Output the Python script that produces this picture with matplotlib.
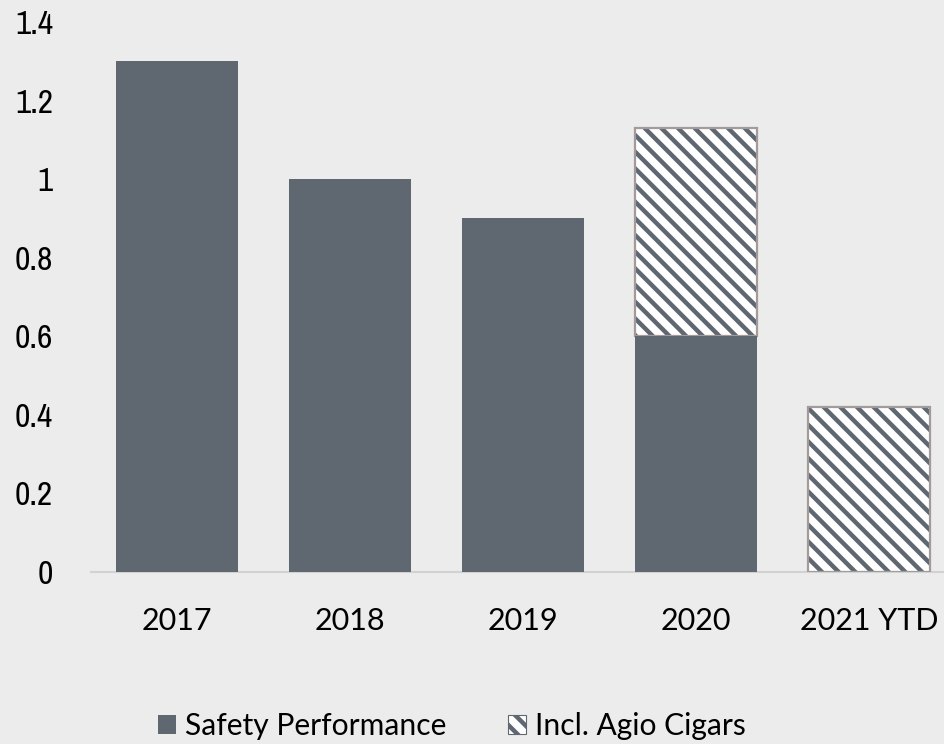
"""Safety performance bar chart, 2017 - 2021 YTD."""

import matplotlib

matplotlib.use("Agg")

import matplotlib.pyplot as plt
from matplotlib import font_manager
from matplotlib.patches import Patch

CATEGORIES = ["2017", "2018", "2019", "2020", "2021 YTD"]
SAFETY = [1.30, 1.00, 0.90, 0.60, 0.0]
INCL_AGIO = [None, None, None, 1.13, 0.42]
Y_TICKS = [0, 0.2, 0.4, 0.6, 0.8, 1.0, 1.2, 1.4]
Y_TICK_LABELS = ["0", "0.2", "0.4", "0.6", "0.8", "1", "1.2", "1.4"]

BG_COLOR = "#ececec"
BAR_COLOR = "#5f6771"
HATCH_EDGE = "#a39a9a"
AXIS_LINE = "#d2d2d2"
TEXT_FONT = ["Lato", "DejaVu Sans"]


def narrow_font():
    names = sorted({f.name for f in font_manager.fontManager.ttflist})
    for name in names:
        if "Narrow" in name or "Condensed" in name:
            return name
    return None


def main():
    plt.rcParams["hatch.linewidth"] = 3.2

    narrow = narrow_font()
    if narrow:
        ytick_font = {"family": [narrow, "DejaVu Sans"]}
    else:
        ytick_font = {"family": ["DejaVu Sans"], "stretch": "condensed"}

    fig = plt.figure(figsize=(9.44, 7.44), dpi=100)
    fig.patch.set_facecolor(BG_COLOR)
    ax = fig.add_axes([90.5 / 944, 1 - 572 / 744, (956 - 90.5) / 944, 550 / 744])
    ax.set_facecolor("none")

    x = list(range(len(CATEGORIES)))
    width = 0.705

    # hatched totals stacked above the solid bars
    for xi, total, base in zip(x, INCL_AGIO, SAFETY):
        if total is None:
            continue
        ax.bar(xi, total - base, bottom=base, width=width, color="white",
               edgecolor=BAR_COLOR, hatch="\\\\", linewidth=0, zorder=2)
        ax.bar(xi, total - base, bottom=base, width=width, fill=False,
               edgecolor=HATCH_EDGE, linewidth=1.6, zorder=3)

    ax.bar(x, SAFETY, width=width, color=BAR_COLOR, linewidth=0, zorder=4)

    ax.set_xlim(-0.5, len(CATEGORIES) - 0.5)
    ax.set_ylim(0, 1.4)
    ax.set_yticks(Y_TICKS)
    ax.set_yticklabels(Y_TICK_LABELS, fontsize=24, **ytick_font)
    ax.set_xticks(x)
    ax.set_xticklabels(CATEGORIES, fontsize=22, family=TEXT_FONT)
    ax.tick_params(axis="y", length=0, pad=27)
    ax.tick_params(axis="x", length=0, pad=25.5)

    for side in ("top", "right", "left"):
        ax.spines[side].set_visible(False)
    ax.spines["bottom"].set_color(AXIS_LINE)
    ax.spines["bottom"].set_linewidth(1.5)

    handles = [
        Patch(facecolor=BAR_COLOR, edgecolor="none", label="Safety Performance"),
        Patch(facecolor="white", edgecolor=BAR_COLOR, hatch="\\\\",
              linewidth=0.8, label="Incl. Agio Cigars"),
    ]
    fig.legend(
        handles=handles,
        loc="center",
        bbox_to_anchor=(451.5 / 944, 1 - 726.5 / 744),
        ncol=2,
        frameon=False,
        prop={"family": TEXT_FONT, "size": 21.6},
        handlelength=0.6,
        handleheight=0.6,
        handletextpad=0.3,
        columnspacing=2.05,
    )

    fig.savefig("out.png", dpi=100, facecolor=BG_COLOR)
    plt.close(fig)


if __name__ == "__main__":
    main()
